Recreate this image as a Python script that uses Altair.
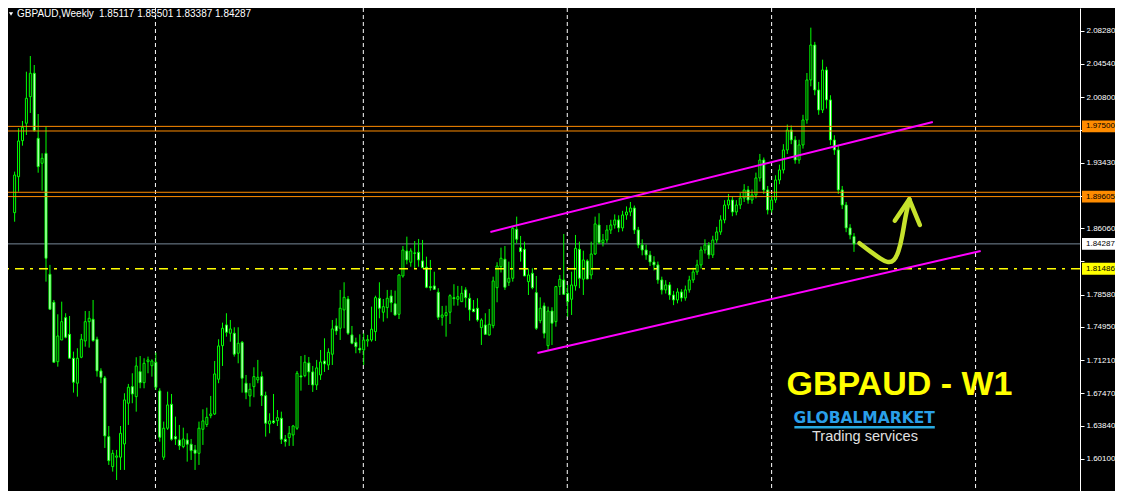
import altair as alt
import pandas as pd

# ---------------- data ----------------
opens = [1.8780, 1.9184, 1.9589, 1.9785, 2.0084, 2.0347, 1.9616, 1.9335, 1.9447, 1.8087,
         1.7772, 1.7104, 1.7348, 1.7599, 1.7412, 1.7143, 1.6862, 1.7154, 1.7337, 1.7554,
         1.7581, 1.7356, 1.7000, 1.6921, 1.6261, 1.5924, 1.6030, 1.6030, 1.6179, 1.6637,
         1.6823, 1.6711, 1.6992, 1.6868, 1.7104, 1.7059, 1.7098, 1.6775, 1.6030, 1.6356,
         1.6625, 1.6261, 1.6224, 1.6149, 1.6224, 1.6176, 1.6112, 1.6074, 1.6344, 1.6398,
         1.6497, 1.6516, 1.6907, 1.7284, 1.7517, 1.7424, 1.7424, 1.7199, 1.7322, 1.6862,
         1.6719, 1.6823, 1.6899, 1.6936, 1.6722, 1.6404, 1.6438, 1.6441, 1.6468, 1.6232,
         1.6250, 1.6280, 1.6356, 1.6944, 1.6947, 1.7090, 1.6989, 1.6842, 1.6955, 1.7112,
         1.7067, 1.7188, 1.7506, 1.7480, 1.7686, 1.7809, 1.7405, 1.7322, 1.7255, 1.7236,
         1.7337, 1.7348, 1.7442, 1.7817, 1.7660, 1.7712, 1.7843, 1.7756, 1.7637, 1.8068,
         1.8349, 1.8222, 1.8327, 1.8334, 1.8237, 1.8166, 1.7948, 1.7956, 1.7885, 1.7604,
         1.7622, 1.7660, 1.7824, 1.7806, 1.7779, 1.7911, 1.7817, 1.7697, 1.7705, 1.7487,
         1.7517, 1.7405, 1.7509, 1.7936, 1.8172, 1.8256, 1.7997, 1.8042, 1.8593, 1.8386,
         1.8368, 1.8004, 1.8098, 1.7880, 1.7565, 1.7731, 1.7284, 1.7674, 1.7554, 1.7948,
         1.8023, 1.7873, 1.7806, 1.7956, 1.8368, 1.8031, 1.8237, 1.8079, 1.8315, 1.8641,
         1.8442, 1.8473, 1.8585, 1.8641, 1.8698, 1.8608, 1.8754, 1.8787, 1.8832, 1.8585,
         1.8416, 1.8360, 1.8304, 1.8225, 1.8192, 1.8023, 1.7911, 1.7967, 1.7854, 1.7798,
         1.7888, 1.7821, 1.7911, 1.8023, 1.8113, 1.8192, 1.8360, 1.8416, 1.8304, 1.8473,
         1.8563, 1.8698, 1.8866, 1.8922, 1.8787, 1.8866, 1.8945, 1.9035, 1.8922, 1.8979,
         1.9170, 1.9372, 1.9035, 1.8810, 1.8922, 1.9147, 1.9260, 1.9485, 1.9709, 1.9597,
         1.9372, 1.9541, 1.9822, 2.0272, 2.0665, 2.0159, 1.9934, 2.0384, 2.0047, 1.9597,
         1.9485, 1.9035, 1.8866, 1.8608, 1.85117]
highs = [1.9241, 1.9729, 1.9811, 2.0365, 2.0541, 2.0440, 1.9889, 1.9447, 1.9747, 1.8192,
         1.7798, 1.7637, 1.7779, 1.7649, 1.7618, 1.7217, 1.7255, 1.7416, 1.7674, 1.7674,
         1.7798, 1.7385, 1.7030, 1.6944, 1.6381, 1.6112, 1.6112, 1.6381, 1.6749, 1.6854,
         1.6974, 1.7154, 1.7168, 1.7143, 1.7161, 1.7131, 1.7206, 1.6805, 1.6430, 1.6767,
         1.6741, 1.6486, 1.6393, 1.6362, 1.6299, 1.6235, 1.6168, 1.6430, 1.6569, 1.6587,
         1.6719, 1.7112, 1.7356, 1.7543, 1.7649, 1.7573, 1.7491, 1.7491, 1.7337, 1.6955,
         1.6862, 1.7041, 1.7124, 1.6992, 1.6767, 1.6524, 1.6741, 1.6561, 1.6542, 1.6280,
         1.6381, 1.6393, 1.7000, 1.7168, 1.7180, 1.7157, 1.7056, 1.7124, 1.7236, 1.7367,
         1.7255, 1.7573, 1.7592, 1.7911, 1.7997, 1.7843, 1.7506, 1.7374, 1.7412, 1.7424,
         1.7405, 1.7723, 1.7846, 1.7997, 1.7809, 1.7911, 1.7911, 1.7903, 1.8087, 1.8405,
         1.8510, 1.8379, 1.8461, 1.8484, 1.8473, 1.8285, 1.8248, 1.8116, 1.7930, 1.7731,
         1.7734, 1.7862, 1.7975, 1.7956, 1.7956, 1.7941, 1.7873, 1.7798, 1.7817, 1.7592,
         1.7649, 1.7697, 1.8060, 1.8222, 1.8386, 1.8405, 1.8229, 1.8622, 1.8735, 1.8518,
         1.8454, 1.8154, 1.8154, 1.8068, 1.7828, 1.7768, 1.7723, 1.7716, 1.7956, 1.8079,
         1.8540, 1.7967, 1.8116, 1.8529, 1.8454, 1.8352, 1.8256, 1.8454, 1.8735, 1.8773,
         1.8540, 1.8640, 1.8700, 1.8760, 1.8750, 1.8800, 1.8850, 1.8900, 1.8860, 1.8620,
         1.8480, 1.8420, 1.8350, 1.8290, 1.8230, 1.8060, 1.8020, 1.8000, 1.7900, 1.7930,
         1.7920, 1.7960, 1.8070, 1.8160, 1.8250, 1.8400, 1.8480, 1.8450, 1.8520, 1.8620,
         1.8750, 1.8920, 1.8990, 1.8960, 1.8920, 1.9000, 1.9100, 1.9080, 1.9040, 1.9230,
         1.9440, 1.9400, 1.9080, 1.8980, 1.9200, 1.9320, 1.9550, 1.9770, 1.9760, 1.9640,
         1.9600, 1.9880, 2.0350, 2.0860, 2.0700, 2.0250, 2.0500, 2.0420, 2.0100, 1.9650,
         1.9530, 1.9080, 1.8900, 1.8650, 1.85501]
lows = [1.8678, 1.9016, 1.9533, 1.9653, 1.9901, 1.9690, 1.9229, 1.9027, 1.8004, 1.7686,
        1.7093, 1.7048, 1.7348, 1.7367, 1.7143, 1.6756, 1.6711, 1.7143, 1.7273, 1.7262,
        1.7329, 1.6936, 1.6862, 1.6134, 1.5943, 1.5868, 1.5774, 1.5887, 1.5887, 1.6393,
        1.6637, 1.6542, 1.6805, 1.6805, 1.6974, 1.6936, 1.6786, 1.6205, 1.5999, 1.6337,
        1.6216, 1.6168, 1.6112, 1.6131, 1.5980, 1.5999, 1.5887, 1.5943, 1.6168, 1.6370,
        1.6468, 1.6505, 1.6862, 1.7056, 1.7385, 1.7329, 1.7161, 1.7086, 1.6756, 1.6682,
        1.6598, 1.6704, 1.6862, 1.6606, 1.6261, 1.6299, 1.6404, 1.6381, 1.6179, 1.6149,
        1.6157, 1.6157, 1.6337, 1.6778, 1.6929, 1.6842, 1.6764, 1.6786, 1.6899, 1.6989,
        1.7011, 1.7067, 1.7405, 1.7348, 1.7480, 1.7405, 1.7300, 1.7199, 1.7199, 1.7067,
        1.7273, 1.7329, 1.7337, 1.7592, 1.7554, 1.7592, 1.7660, 1.7622, 1.7584, 1.8049,
        1.8199, 1.8172, 1.8154, 1.8172, 1.8154, 1.7930, 1.7903, 1.7911, 1.7573, 1.7509,
        1.7385, 1.7528, 1.7734, 1.7734, 1.7779, 1.7712, 1.7565, 1.7660, 1.7554, 1.7292,
        1.7405, 1.7397, 1.7480, 1.7772, 1.8107, 1.7911, 1.7956, 1.8004, 1.8436, 1.8229,
        1.8068, 1.7854, 1.7918, 1.7461, 1.7536, 1.7367, 1.7236, 1.7292, 1.7498, 1.7854,
        1.7854, 1.7610, 1.7629, 1.7903, 1.7930, 1.7854, 1.8031, 1.8031, 1.8304, 1.8424,
        1.8400, 1.8440, 1.8540, 1.8600, 1.8560, 1.8570, 1.8700, 1.8740, 1.8540, 1.8380,
        1.8300, 1.8250, 1.8180, 1.8130, 1.7980, 1.7860, 1.7870, 1.7800, 1.7740, 1.7760,
        1.7780, 1.7790, 1.7880, 1.7990, 1.8080, 1.8150, 1.8320, 1.8260, 1.8270, 1.8440,
        1.8530, 1.8660, 1.8820, 1.8740, 1.8750, 1.8820, 1.8900, 1.8880, 1.8880, 1.8940,
        1.9130, 1.8990, 1.8760, 1.8780, 1.8890, 1.9100, 1.9220, 1.9440, 1.9550, 1.9330,
        1.9330, 1.9500, 1.9780, 2.0200, 2.0100, 1.9880, 1.9900, 1.9950, 1.9540, 1.9430,
        1.8990, 1.8820, 1.8560, 1.8480, 1.83387]
closes = [1.9203, 1.9586, 1.9740, 2.0066, 2.0347, 1.9702, 1.9297, 1.9391, 1.8267, 1.7694,
          1.7098, 1.7393, 1.7554, 1.7379, 1.7143, 1.6873, 1.7143, 1.7356, 1.7554, 1.7592,
          1.7341, 1.7000, 1.6929, 1.6269, 1.5991, 1.6074, 1.6044, 1.6299, 1.6674, 1.6817,
          1.6741, 1.7056, 1.6868, 1.7086, 1.7124, 1.7112, 1.6817, 1.6254, 1.6356, 1.6618,
          1.6232, 1.6235, 1.6160, 1.6235, 1.6176, 1.6104, 1.6074, 1.6356, 1.6438, 1.6479,
          1.6516, 1.6966, 1.7281, 1.7480, 1.7435, 1.7472, 1.7188, 1.7311, 1.6918, 1.6756,
          1.6794, 1.6936, 1.6929, 1.6722, 1.6412, 1.6438, 1.6419, 1.6475, 1.6232, 1.6205,
          1.6299, 1.6381, 1.6974, 1.6932, 1.7098, 1.6989, 1.6842, 1.7034, 1.7101, 1.7079,
          1.7210, 1.7472, 1.7450, 1.7705, 1.7828, 1.7424, 1.7311, 1.7273, 1.7236, 1.7348,
          1.7352, 1.7469, 1.7824, 1.7705, 1.7723, 1.7817, 1.7768, 1.7629, 1.8079, 1.8360,
          1.8248, 1.8349, 1.8323, 1.8248, 1.8161, 1.7941, 1.7936, 1.7918, 1.7604, 1.7629,
          1.7655, 1.7846, 1.7813, 1.7835, 1.7873, 1.7824, 1.7686, 1.7667, 1.7573, 1.7573,
          1.7412, 1.7525, 1.8012, 1.8180, 1.8267, 1.7941, 1.8042, 1.8604, 1.8481, 1.8341,
          1.8068, 1.8079, 1.7936, 1.7480, 1.7705, 1.7424, 1.7674, 1.7536, 1.7948, 1.8031,
          1.7862, 1.7779, 1.7967, 1.8379, 1.8042, 1.8248, 1.8034, 1.8315, 1.8653, 1.8442,
          1.8473, 1.8585, 1.8641, 1.8698, 1.8608, 1.8754, 1.8787, 1.8832, 1.8585, 1.8416,
          1.8360, 1.8304, 1.8225, 1.8192, 1.8023, 1.7911, 1.7967, 1.7854, 1.7798, 1.7888,
          1.7821, 1.7911, 1.8023, 1.8113, 1.8192, 1.8360, 1.8416, 1.8304, 1.8473, 1.8563,
          1.8698, 1.8866, 1.8922, 1.8787, 1.8866, 1.8945, 1.9035, 1.8922, 1.8979, 1.9170,
          1.9372, 1.9035, 1.8810, 1.8922, 1.9147, 1.9260, 1.9485, 1.9709, 1.9597, 1.9372,
          1.9541, 1.9822, 2.0272, 2.0665, 2.0159, 1.9934, 2.0384, 2.0047, 1.9597, 1.9485,
          1.9035, 1.8866, 1.8608, 1.8529, 1.84287]

price_ticks = [2.08280, 2.04540, 2.00800, 1.97060, 1.93430, 1.89690, 1.86060, 1.82320,
               1.78580, 1.74950, 1.71210, 1.67470, 1.63840, 1.60100, 1.56470]
covered_ticks = [1.97060, 1.89690, 1.82320]            # labels hidden behind the price tags
year_grid = [35.9, 88.9, 140.9, 193.0, 245.0]          # weekly bar index of year separators

level_prices = [1.97500, 1.96980, 1.90090, 1.89605]    # orange horizontal levels
current_price = [1.84287]
support_price = [1.81486]

tag_prices = [1.97500, 1.89605, 1.84287, 1.81486]
tag_texts = ["1.97500", "1.89605", "1.84287", "1.81486"]
tag_colors = ["#FF8C00", "#FF8C00", "#FFFFFF", "#FFFF00"]

channel_x1 = [121.3, 133.3]
channel_p1 = [1.8563, 1.7202]
channel_x2 = [234.1, 246.3]
channel_p2 = [1.9799, 1.8349]

arrow_x = [215.4, 218.3, 220.8, 222.5, 224.2, 225.4, 226.3, 227.1, 228.1]
arrow_p = [1.8436, 1.8338, 1.8259, 1.8218, 1.8229, 1.8341, 1.8510, 1.8735, 1.8930]
head_x = [224.4, 230.8]
head_p = [1.8690, 1.8641]

logo_texts = ["GBPAUD - W1", "GLOBALMARKET", "Trading services"]
logo_x = [225.6, 216.6, 216.8]
logo_p = [1.6842, 1.6475, 1.6255]
logo_bar_x = [198.8, 234.6]
logo_bar_p = [1.6368]

header_symbol = "GBPAUD,Weekly"
header_values = "1.85117 1.85501 1.83387 1.84287"

# ---------------- chart ----------------
W, H = 1072, 483
PAD_R = 35
XS = alt.Scale(domain=[-0.4175, 270.35], nice=False, zero=False)
YS = alt.Scale(domain=[1.5650, 2.1081], nice=False, zero=False)
hide_expr = " || ".join(f"abs(datum.value - {v}) < 0.00005" for v in covered_ticks)
YAX = alt.Axis(orient="right", values=price_ticks, format=".5f", labelColor="#FFFFFF",
               labelFont="Liberation Sans", labelFontSize=8, tickColor="#FFFFFF",
               tickSize=4, domainColor="#FFFFFF", labelPadding=2, grid=False,
               title=None, labelOverlap=False, labelFlush=False,
               labelExpr=f"({hide_expr}) ? '' : datum.label")


def X(field):
    return alt.X(field, type="quantitative", scale=XS, axis=None)


def Y(field):
    return alt.Y(field, type="quantitative", scale=YS, axis=YAX)


df = pd.DataFrame({"idx": list(range(len(closes))), "open": opens, "high": highs,
                   "low": lows, "close": closes})

grid_df = pd.DataFrame({"g": year_grid})
lvl_df = pd.DataFrame({"p": level_prices})
cur_df = pd.DataFrame({"p": current_price})
sup_df = pd.DataFrame({"p": support_price})
tag_df = pd.DataFrame({"p": tag_prices, "t": tag_texts, "c": tag_colors})
ch_df = pd.DataFrame({"x1": channel_x1, "x2": channel_x2, "p1": channel_p1, "p2": channel_p2})
arrow_df = pd.DataFrame({"x": arrow_x, "p": arrow_p, "o": list(range(len(arrow_x)))})
head_df = pd.DataFrame({"x1": [arrow_x[-1]] * 2, "p1": [arrow_p[-1]] * 2, "x2": head_x, "p2": head_p})
logo_df = pd.DataFrame({"x": logo_x, "p": logo_p, "t": logo_texts})
bar_df = pd.DataFrame({"x1": [logo_bar_x[0]], "x2": [logo_bar_x[1]], "p": logo_bar_p})

grid = alt.Chart(grid_df).mark_rule(color="#FFFFFF", strokeWidth=1, strokeDash=[4, 3]).encode(x=X("g"))

cur_line = alt.Chart(cur_df).mark_rule(color="#778899", strokeWidth=1).encode(y=Y("p"))

wicks = alt.Chart(df).mark_rule(color="#00FF00", strokeWidth=1).encode(
    x=X("idx"), y=Y("low"), y2="high")
bodies = alt.Chart(df).mark_bar(size=2, stroke="#00FF00", strokeWidth=1).encode(
    x=X("idx"), y=Y("open"), y2="close",
    fill=alt.condition("datum.close >= datum.open", alt.value("#000000"), alt.value("#FFFFFF")))

levels = alt.Chart(lvl_df).mark_rule(color="#FF8C00", strokeWidth=1).encode(y=Y("p"))
support = alt.Chart(sup_df).mark_rule(color="#FFFF00", strokeWidth=1.6, strokeDash=[9, 6, 3, 6]).encode(y=Y("p"))

channel = alt.Chart(ch_df).mark_rule(color="#FF00FF", strokeWidth=2).encode(
    x=X("x1"), x2="x2", y=Y("p1"), y2="p2")

arrow = alt.Chart(arrow_df).mark_line(color="#C6E22C", strokeWidth=4.5, strokeCap="round",
                                      strokeJoin="round", interpolate="basis").encode(
    x=X("x"), y=Y("p"), order="o:Q")
head = alt.Chart(head_df).mark_rule(color="#C6E22C", strokeWidth=4.5, strokeCap="round").encode(
    x=X("x1"), x2="x2", y=Y("p1"), y2="p2")

title_big = alt.Chart(logo_df.iloc[[0]]).mark_text(
    font="Liberation Sans", fontWeight="bold", fontSize=34, color="#FFFF00",
    align="center", baseline="middle").encode(x=X("x"), y=Y("p"), text="t:N")
logo_name = alt.Chart(logo_df.iloc[[1]]).mark_text(
    font="DejaVu Sans", fontWeight="bold", fontSize=15.5, color="#2A9FE8",
    align="center", baseline="middle").encode(x=X("x"), y=Y("p"), text="t:N")
logo_sub = alt.Chart(logo_df.iloc[[2]]).mark_text(
    font="Liberation Sans", fontSize=14.5, color="#E0E0E0",
    align="center", baseline="middle").encode(x=X("x"), y=Y("p"), text="t:N")
logo_bar = alt.Chart(bar_df).mark_rule(color="#29ABE2", strokeWidth=2.5).encode(
    x=X("x1"), x2="x2", y=Y("p"))

box_shape = "M-1,-0.36L1,-0.36L1,0.36L-1,0.36Z"
tag_boxes = alt.Chart(tag_df).mark_point(shape=box_shape, size=33 * 33, filled=True,
                                         opacity=1, strokeWidth=0).encode(
    x=alt.value(W + 18.5), y=Y("p"), color=alt.Color("c:N", scale=None))
tag_text = alt.Chart(tag_df).mark_text(font="Liberation Sans", fontSize=8, color="#000000",
                                       align="left", baseline="middle").encode(
    x=alt.value(W + 6), y=Y("p"), text="t:N")

hdr1 = alt.Chart(pd.DataFrame({"t": [header_symbol]})).mark_text(
    font="Liberation Sans", fontSize=10, color="#FFFFFF", align="left", baseline="middle").encode(
    x=alt.value(9), y=alt.value(6), text="t:N")
hdr2 = alt.Chart(pd.DataFrame({"t": [header_values]})).mark_text(
    font="Liberation Sans", fontSize=10, color="#FFFFFF", align="left", baseline="middle").encode(
    x=alt.value(91), y=alt.value(6), text="t:N")
hdr_tri = alt.Chart(pd.DataFrame({"t": ["a"]})).mark_point(
    shape="triangle-down", size=18, filled=True, color="#FFFFFF", opacity=1).encode(
    x=alt.value(3), y=alt.value(6))

chart = alt.layer(
    grid, cur_line, wicks, bodies, levels, support, channel, arrow, head,
    title_big, logo_name, logo_sub, logo_bar, tag_boxes, tag_text, hdr1, hdr2, hdr_tri
).properties(
    width=W, height=H,
    autosize=alt.AutoSizeParams(type="none"),
    padding={"left": 0, "top": 0, "right": PAD_R, "bottom": 0},
    background="#000000",
).configure_view(fill="#000000", stroke="transparent")

chart.save("out.html", embed_options={"renderer": "svg", "actions": False})
